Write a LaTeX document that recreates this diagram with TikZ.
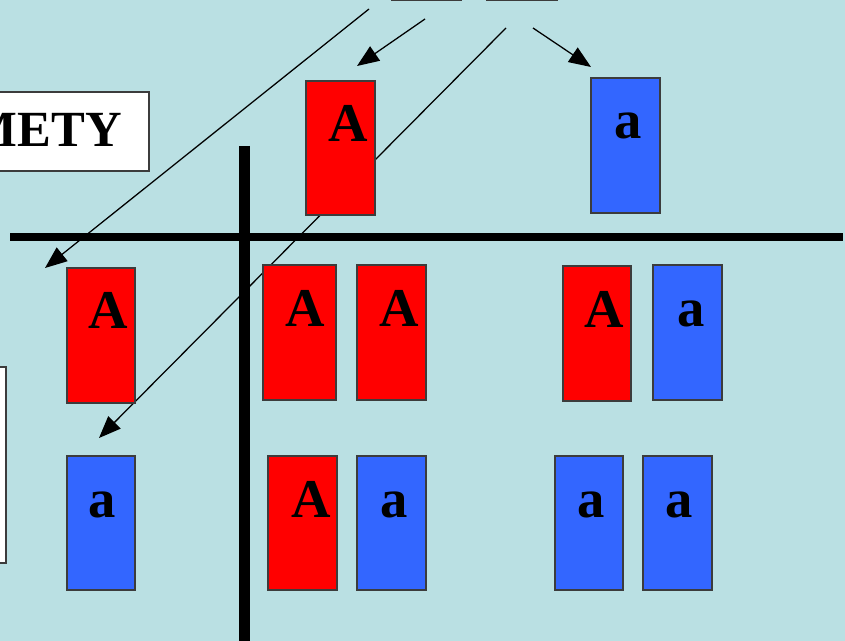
\documentclass[tikz,border=0pt]{standalone}
\usepackage{fontspec}
\setmainfont{Liberation Serif}
\usetikzlibrary{arrows.meta}
\definecolor{bgcyan}{RGB}{186,224,227}
\definecolor{allelered}{RGB}{255,0,0}
\definecolor{alleleblue}{RGB}{51,102,255}
\definecolor{edgegray}{RGB}{60,60,60}
\tikzset{
  redcell/.style={fill=allelered,draw=edgegray,line width=1pt},
  bluecell/.style={fill=alleleblue,draw=edgegray,line width=1pt},
  letter/.style={anchor=base,inner sep=0pt,font=\fontsize{41}{41}\selectfont\bfseries},
  whitebox/.style={fill=white,draw=edgegray,line width=1.4pt},
  gridline/.style={line width=#1,draw=black},
  pointer/.style={draw=black,line width=0.95pt,-{Triangle[length=16.5pt,width=13pt]}}
}
% one allele card: name, corners (x1,y1) (x2,y2), style, letter, letter centre x
\newcommand{\allelecard}[8]{%
  \path[#6] (#2,#3) rectangle (#4,#5);
  \node[letter] (#1) at (#8,#3+61) {#7};
}
\begin{document}
\begin{tikzpicture}[x=0.75pt,y=-0.75pt]
\useasboundingbox (0,0) rectangle (845,641);
\clip (0,0) rectangle (845,641);
\fill[bgcyan] (0,0) rectangle (845,641);

% parental gamete boxes at the top edge
\path[whitebox] (392,-30) rectangle (461,0.5);
\path[whitebox] (487,-30) rectangle (557,0.5);

% title box and side box
\path[whitebox] (-60,92) rectangle (149,171);
\node[anchor=base east,inner sep=0pt,font=\fontsize{38}{38}\selectfont\bfseries] (title) at (122,147) {METY};
\path[whitebox] (-60,367) rectangle (6,563);

% Punnett grid lines
\draw[gridline=5.5pt] (10,237) -- (843,237);
\draw[gridline=8pt] (244.5,146) -- (244.5,660);

% connectors from the gametes
\coordinate (s1) at (369,9);
\coordinate (t1) at (45,268);
\coordinate (s2) at (425,19);
\coordinate (t2) at (357,66);
\coordinate (s3) at (506,28);
\coordinate (t3) at (99,438);
\coordinate (s4) at (533,28);
\coordinate (t4) at (591,67);
\draw[pointer] (s1) -- (t1);
\draw[pointer] (s2) -- (t2);
\draw[pointer] (s3) -- (t3);
\draw[pointer] (s4) -- (t4);

% gametes along the top
\allelecard{topA}{306}{81}{375}{215}{redcell}{A}{348}
\allelecard{topa}{591}{78}{660}{213}{bluecell}{a}{628}

% gametes along the left side
\allelecard{leftA}{67}{268}{135}{403}{redcell}{A}{108}
\allelecard{lefta}{67}{456}{135}{590}{bluecell}{a}{102}

% offspring, first row
\allelecard{AA1}{263}{265}{336}{400}{redcell}{A}{305}
\allelecard{AA2}{357}{265}{426}{400}{redcell}{A}{399}
\allelecard{Aa1}{563}{266}{631}{401}{redcell}{A}{604}
\allelecard{Aa2}{653}{265}{722}{400}{bluecell}{a}{691}

% offspring, second row
\allelecard{aA1}{268}{456}{337}{590}{redcell}{A}{311}
\allelecard{aA2}{357}{456}{426}{590}{bluecell}{a}{394}
\allelecard{aa1}{555}{456}{623}{590}{bluecell}{a}{591}
\allelecard{aa2}{643}{456}{712}{590}{bluecell}{a}{679}
\end{tikzpicture}
\end{document}
